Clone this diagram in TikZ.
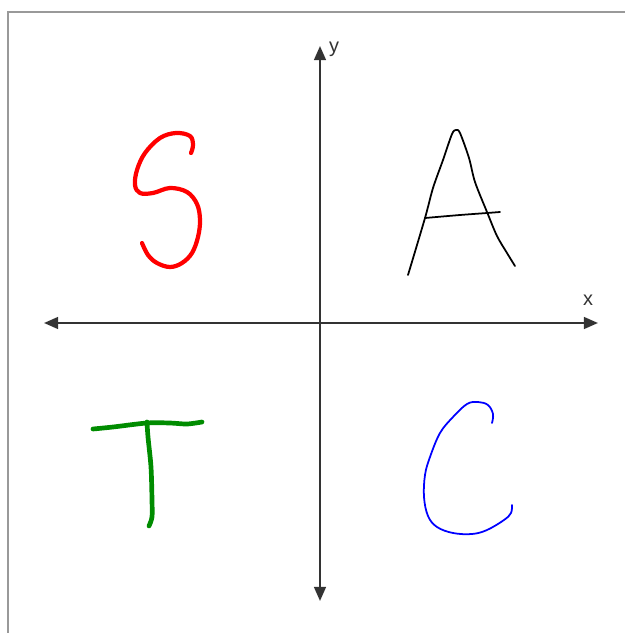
\documentclass[tikz,border=0pt]{standalone}
\usepackage{fontspec}
\setmainfont{Liberation Sans}
\usetikzlibrary{arrows.meta}
\definecolor{axisgray}{HTML}{333333}
\definecolor{framegray}{HTML}{999999}
\definecolor{penred}{HTML}{FF0000}
\definecolor{pengreen}{HTML}{008C00}
\definecolor{penblue}{HTML}{0000FF}
\tikzset{
    axis/.style={draw=axisgray, line width=1.9pt, {Triangle[length=12pt,width=10pt]}-{Triangle[length=12pt,width=10pt]}},
    axislabel/.style={text=axisgray, font=\fontsize{17}{20}\selectfont, inner sep=0pt},
    pen/.style={line cap=round, line join=round}
}
\begin{document}
\begin{tikzpicture}[x=0.03cm, y=-0.03cm]
        \useasboundingbox (0, 0) rectangle (625, 633);
        \draw[framegray, line width=1.6pt] (8, 633) -- (8, 12) -- (625, 12);

        \coordinate (left) at (44, 323);
        \coordinate (right) at (598, 323);
        \coordinate (top) at (320, 46);
        \coordinate (bottom) at (320, 601);
        \draw[axis] (left) -- (right);
        \draw[axis] (bottom) -- (top);
        \node[axislabel] (xlabel) at (588, 300) {x};
        \node[axislabel] (ylabel) at (334, 49) {y};

        % S
        \draw[pen, penred, line width=3.6pt] plot[smooth, tension=0.6] coordinates {
            (191, 153) (193, 145) (190, 136) (176, 133) (160, 138) (145, 153) (137, 170)
            (135, 185) (140, 193) (153, 193) (170, 188) (187, 192) (197, 204) (200, 220)
            (198, 237) (192, 253) (182, 263) (170, 267) (157, 263) (148, 255) (142, 243)};

        % A
        \draw[pen, black, line width=1.5pt] plot[smooth, tension=0.5] coordinates {
            (408, 275) (425, 218) (433, 188) (443, 160) (452, 134) (456, 130) (460, 133)
            (469, 158) (475, 182) (487, 212) (497, 236) (507, 253) (515, 266)};
        \draw[pen, black, line width=1.5pt] plot[smooth, tension=0.5] coordinates {
            (425, 218) (460, 215) (487, 213) (500, 212)};

        % T
        \draw[pen, pengreen, line width=4pt] plot[smooth, tension=0.5] coordinates {
            (93, 429) (113, 427) (147, 423) (170, 423) (187, 424) (202, 422)};
        \draw[pen, pengreen, line width=4pt] plot[smooth, tension=0.5] coordinates {
            (147, 422) (148, 437) (151, 467) (152, 500) (152, 517) (149, 526)};

        % C
        \draw[pen, penblue, line width=1.5pt] plot[smooth, tension=0.6] coordinates {
            (492, 423) (493, 414) (488, 405) (478, 402) (467, 404) (453, 417) (440, 433)
            (430, 457) (425, 475) (424, 497) (428, 516) (437, 527) (453, 533) (472, 534)
            (487, 530) (504, 520) (511, 513) (512, 505)};
    \end{tikzpicture}
\end{document}
